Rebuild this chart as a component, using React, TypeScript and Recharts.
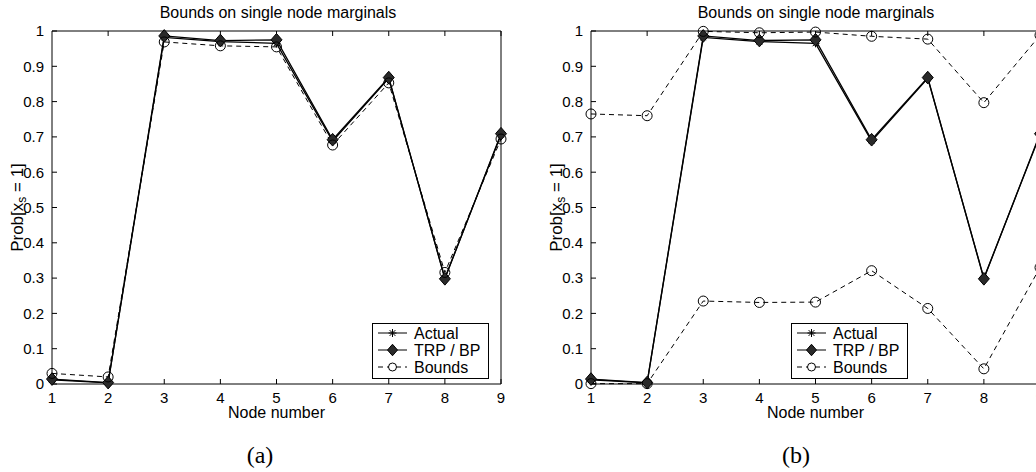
import React from "react";
import { LineChart, Line, XAxis, YAxis, Legend, Label } from "recharts";

// node index on the x axis
const nodes = [1, 2, 3, 4, 5, 6, 7, 8, 9];
const yTicks = [0, 0.1, 0.2, 0.3, 0.4, 0.5, 0.6, 0.7, 0.8, 0.9, 1];

// (a) tree-like graph: bounds are tight
const actualA = [0.012, 0.003, 0.982, 0.970, 0.965, 0.688, 0.866, 0.300, 0.706];
const trpA = [0.014, 0.004, 0.986, 0.973, 0.975, 0.692, 0.868, 0.298, 0.709];
const boundsA = [0.030, 0.020, 0.969, 0.958, 0.955, 0.677, 0.853, 0.316, 0.694];

// (b) loopy graph: upper / lower bounds are loose
const actualB = [0.012, 0.003, 0.982, 0.970, 0.965, 0.688, 0.866, 0.300, 0.706];
const trpB = [0.014, 0.004, 0.986, 0.973, 0.975, 0.692, 0.868, 0.298, 0.709];
const upperB = [0.765, 0.760, 0.999, 0.995, 0.997, 0.985, 0.977, 0.797, 0.988];
const lowerB = [0.001, 0.001, 0.235, 0.231, 0.232, 0.321, 0.214, 0.043, 0.33];

const dataA = nodes.map((n, i) => ({ node: n, actual: actualA[i], trp: trpA[i], bounds: boundsA[i] }));
const dataB = nodes.map((n, i) => ({
  node: n,
  actual: actualB[i],
  trp: trpB[i],
  upper: upperB[i],
  lower: lowerB[i],
}));

const FONT = "'Liberation Sans', Arial, Helvetica, sans-serif";
const tickStyle = { fontSize: 15, fill: "#000", fontFamily: FONT };

const Star = ({ cx, cy, r = 4 }: { cx: number; cy: number; r?: number }) => {
  const d = r * 0.72;
  return (
    <g stroke="#000" strokeWidth={1}>
      <line x1={cx - r} y1={cy} x2={cx + r} y2={cy} />
      <line x1={cx} y1={cy - r} x2={cx} y2={cy + r} />
      <line x1={cx - d} y1={cy - d} x2={cx + d} y2={cy + d} />
      <line x1={cx - d} y1={cy + d} x2={cx + d} y2={cy - d} />
    </g>
  );
};

const Diamond = ({ cx, cy, s = 5.5 }: { cx: number; cy: number; s?: number }) => (
  <polygon
    points={`${cx},${cy - s * 1.15} ${cx + s},${cy} ${cx},${cy + s * 1.15} ${cx - s},${cy}`}
    fill="#2a2a2a"
    stroke="#000"
    strokeWidth={1}
  />
);

const starDot = (p: any) => <Star key={`st-${p.index}`} cx={p.cx} cy={p.cy} />;
const diamondDot = (p: any) => <Diamond key={`dm-${p.index}`} cx={p.cx} cy={p.cy} />;
const circleDot = (p: any) => (
  <circle key={`ci-${p.dataKey}-${p.index}`} cx={p.cx} cy={p.cy} r={5} fill="none" stroke="#000" strokeWidth={1} />
);

const YLabel = ({ viewBox }: any) => {
  const cx = viewBox.x + viewBox.width - 35;
  const cy = viewBox.y + viewBox.height / 2;
  return (
    <text
      transform={`translate(${cx},${cy}) rotate(-90)`}
      textAnchor="middle"
      dominantBaseline="central"
      fontSize={17}
      fontFamily={FONT}
      fill="#000"
    >
      Prob[x<tspan fontSize={12} dy={5}>s</tspan>
      <tspan dy={-5}> = 1]</tspan>
    </text>
  );
};

const XLabel = ({ viewBox }: any) => (
  <text
    x={viewBox.x + viewBox.width / 2}
    y={viewBox.y + 34}
    textAnchor="middle"
    fontSize={16}
    fontFamily={FONT}
    fill="#000"
  >
    Node number
  </text>
);

const LegendBox = () => (
  <svg width={117} height={56} style={{ display: "block" }}>
    <rect x={0.5} y={0.5} width={116} height={55} fill="#fff" stroke="#000" />
    <line x1={6} y1={10} x2={35} y2={10} stroke="#000" />
    <Star cx={20.5} cy={10} />
    <line x1={6} y1={27} x2={35} y2={27} stroke="#000" />
    <Diamond cx={20.5} cy={27} s={5} />
    <line x1={6} y1={44} x2={35} y2={44} stroke="#000" strokeDasharray="5 4" />
    <circle cx={20.5} cy={44} r={4} fill="#fff" stroke="#000" />
    <g fontSize={16} fontFamily={FONT} fill="#000" dominantBaseline="central">
      <text x={42} y={10}>Actual</text>
      <text x={42} y={27}>TRP / BP</text>
      <text x={42} y={44}>Bounds</text>
    </g>
  </svg>
);

const fmt = (v: number) => String(v);

const Panel = ({ data, loose, legendLeft }: { data: any[]; loose: boolean; legendLeft: number }) => (
  <LineChart width={520} height={430} data={data} margin={{ top: 26, right: 14, left: 0, bottom: 0 }}>
    <XAxis
      dataKey="node"
      type="number"
      domain={[1, 9]}
      ticks={nodes}
      height={46}
      tickSize={-5}
      tickMargin={13}
      tick={tickStyle}
      stroke="#000"
      interval={0}
    >
      <Label content={XLabel} />
    </XAxis>
    <XAxis
      xAxisId="top"
      orientation="top"
      type="number"
      domain={[1, 9]}
      ticks={nodes}
      height={5}
      tickSize={-5}
      tickFormatter={() => ""}
      stroke="#000"
      interval={0}
    />
    <YAxis
      type="number"
      domain={[0, 1]}
      ticks={yTicks}
      width={52}
      tickSize={-5}
      tickMargin={13}
      tick={tickStyle}
      tickFormatter={fmt}
      stroke="#000"
      interval={0}
    >
      <Label content={YLabel} />
    </YAxis>
    <YAxis
      yAxisId="right"
      orientation="right"
      type="number"
      domain={[0, 1]}
      ticks={yTicks}
      width={5}
      tickSize={-5}
      tickFormatter={() => ""}
      stroke="#000"
      interval={0}
    />
    <Line dataKey="actual" stroke="#000" strokeWidth={1.3} dot={starDot} isAnimationActive={false} />
    <Line dataKey="trp" stroke="#000" strokeWidth={1.3} dot={diamondDot} isAnimationActive={false} />
    {loose ? (
      <Line dataKey="upper" stroke="#000" strokeWidth={1} strokeDasharray="5 4" dot={circleDot} isAnimationActive={false} />
    ) : (
      <Line dataKey="bounds" stroke="#000" strokeWidth={1} strokeDasharray="5 4" dot={circleDot} isAnimationActive={false} />
    )}
    {loose && (
      <Line dataKey="lower" stroke="#000" strokeWidth={1} strokeDasharray="5 4" dot={circleDot} isAnimationActive={false} />
    )}
    <Legend
      layout="vertical"
      align="center"
      verticalAlign="middle"
      content={LegendBox}
      wrapperStyle={{ left: legendLeft, top: 323, width: 117, height: 56 }}
    />
  </LineChart>
);

const titleStyle: React.CSSProperties = {
  position: "absolute",
  top: 5,
  width: 520,
  textAlign: "center",
  fontFamily: FONT,
  fontSize: 16,
  lineHeight: "16px",
};

const capStyle: React.CSSProperties = {
  position: "absolute",
  top: 443,
  width: 100,
  textAlign: "center",
  fontFamily: "'Liberation Serif', 'DejaVu Serif', serif",
  fontSize: 24,
  lineHeight: "24px",
};

export default function App() {
  return (
    <div
      style={{
        position: "fixed",
        left: 0,
        top: 0,
        width: 1036,
        height: 472,
        overflow: "hidden",
        background: "#fff",
      }}
    >
      <div style={{ position: "absolute", left: 0, top: 0 }}>
        <Panel data={dataA} loose={false} legendLeft={372} />
      </div>
      <div style={{ position: "absolute", left: 539, top: 0 }}>
        <Panel data={dataB} loose={true} legendLeft={252} />
      </div>
      <div style={{ ...titleStyle, left: 18 }}>Bounds on single node marginals</div>
      <div style={{ ...titleStyle, left: 556 }}>Bounds on single node marginals</div>
      <div style={{ ...capStyle, left: 210 }}>(a)</div>
      <div style={{ ...capStyle, left: 746 }}>(b)</div>
    </div>
  );
}
